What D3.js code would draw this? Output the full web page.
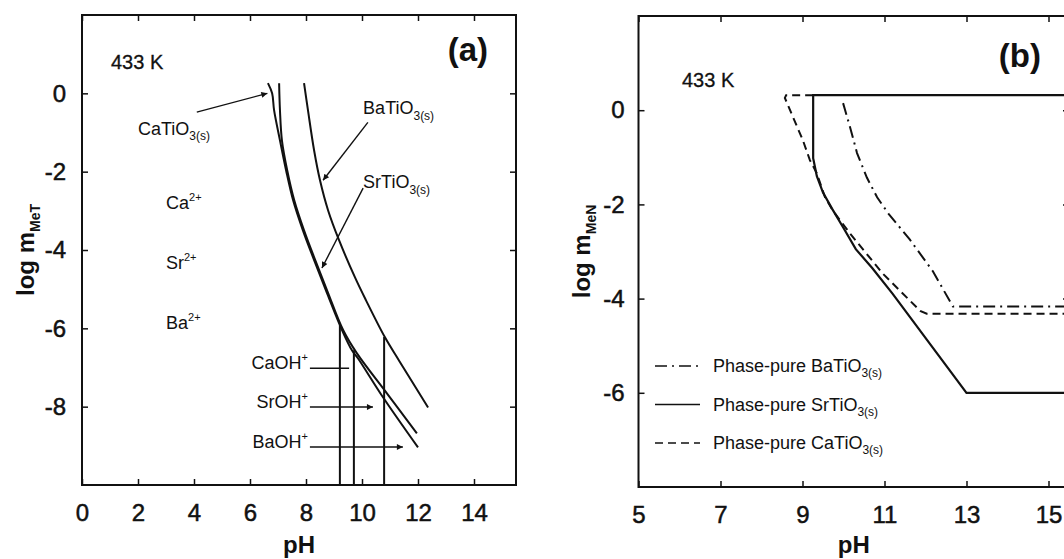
<!DOCTYPE html>
<html>
<head>
<meta charset="utf-8">
<script src="https://cdn.jsdelivr.net/npm/d3@7"></script>
<style>
  html, body { margin: 0; padding: 0; background: #fff; }
  svg { display: block; font-family: "Liberation Sans", Arial, sans-serif; }
  .tick text { fill: #111; stroke: #111; stroke-width: 0.5px; }
</style>
</head>
<body>
<svg id="chart" width="1064" height="559"></svg>
<script>
// ---- panel (a): solubility curves at 433 K ----
const aXTicks = [0, 2, 4, 6, 8, 10, 12, 14];
const aYTicks = [0, -2, -4, -6, -8];
const caCurve = [[6.64,0.26],[6.79,0],[6.86,-0.43],[7.07,-1.2],[7.29,-1.97],[7.54,-2.73],[7.89,-3.5],[8.29,-4.26],[8.75,-5.1],[9.29,-6.05],[9.64,-6.56],[9.86,-6.77],[10.75,-7.76],[12.0,-9.04]];
const srCurve = [[7.04,0.26],[7.07,-0.43],[7.14,-1.2],[7.33,-1.97],[7.58,-2.73],[7.93,-3.5],[8.33,-4.26],[8.79,-5.1],[9.33,-6.05],[9.82,-6.64],[10.89,-7.66],[11.96,-8.68]];
const baCurve = [[7.93,0.26],[8.07,-0.43],[8.29,-1.46],[8.5,-2.22],[8.79,-2.99],[9.18,-3.75],[9.75,-4.7],[10.14,-5.28],[10.82,-6.23],[11.32,-6.82],[12.36,-8.02]];
const hydroxVerticals = [[9.21,-5.92],[9.71,-6.56],[10.79,-6.22]];
const hydroxArrows = [
  { name: 'CaOH', x0: 8.14, x1: 9.54, y: -7.02, head: false },
  { name: 'SrOH', x0: 8.14, x1: 10.39, y: -8.01, head: true },
  { name: 'BaOH', x0: 8.14, x1: 11.46, y: -9.03, head: true }
];
const ionLabels = [
  { el: 'Ca', x: 3.0, y: -2.78 },
  { el: 'Sr', x: 3.0, y: -4.31 },
  { el: 'Ba', x: 3.0, y: -5.84 }
];
const solidLabels = [
  { el: 'CaTiO', x: 2.0, y: -0.9, from: [4.1, -0.48], to: [6.62, 0] },
  { el: 'BaTiO', x: 10.04, y: -0.38, from: [10.21, -0.74], to: [8.61, -2.22] },
  { el: 'SrTiO', x: 10.04, y: -2.27, from: [10.04, -2.42], to: [8.57, -4.46] }
];

// ---- panel (b): phase-pure regions ----
const bXTicks = [5, 7, 9, 11, 13, 15];
const bYTicks = [0, -2, -4, -6];
const srRegion = [[15.5,0.32],[9.26,0.32],[9.26,-1.02],[9.35,-1.4],[9.5,-1.75],[9.72,-2.09],[10.0,-2.5],[10.3,-2.95],[10.7,-3.35],[11.2,-3.9],[13.0,-6.0],[15.5,-6.0]];
const caRegion = [[9.26,0.32],[8.6,0.32],[8.57,0.26],[8.77,-0.15],[9.01,-0.64],[9.18,-1.06],[9.35,-1.34],[9.55,-1.85],[9.74,-2.13],[10.16,-2.62],[10.96,-3.47],[11.87,-4.26],[12.03,-4.32],[15.5,-4.32]];
const baRegion = [[9.99,0.15],[10.16,-0.36],[10.33,-0.91],[10.57,-1.43],[10.82,-1.85],[11.1,-2.2],[11.62,-2.75],[12.18,-3.42],[12.67,-4.17],[15.5,-4.17]];
const legendItems = [
  { el: 'BaTiO', dash: '12,5,2,5' },
  { el: 'SrTiO', dash: null },
  { el: 'CaTiO', dash: '8,5' }
];

const svg = d3.select('#chart');
const defs = svg.append('defs');
defs.append('marker')
  .attr('id', 'head')
  .attr('viewBox', '0 0 10 10')
  .attr('refX', 10).attr('refY', 5)
  .attr('markerWidth', 9).attr('markerHeight', 6)
  .attr('markerUnits', 'userSpaceOnUse')
  .attr('orient', 'auto')
  .append('path').attr('d', 'M0,0L10,5L0,10z').attr('fill', '#111');

const fmt = d => String(d); // plain hyphen minus, as in the figure

function addSub(text, base, sub, subSize) {
  text.append('tspan').text(base);
  text.append('tspan').attr('font-size', subSize).attr('dy', subSize * 0.45).text(sub);
}

function drawFrame(g, x, y, xTicks, yTicks, opts) {
  const [x0, x1] = x.range();
  const [y0, y1] = y.range();
  g.append('g')
    .attr('transform', `translate(0,${y0})`)
    .call(d3.axisBottom(x).tickValues(xTicks).tickFormat(fmt).tickSizeInner(-6).tickSizeOuter(0).tickPadding(19))
    .call(ax => ax.select('.domain').remove())
    .call(ax => ax.selectAll('text').attr('font-size', 24).attr('font-family', 'Liberation Sans, Arial'));
  g.append('g')
    .attr('transform', `translate(0,${y1})`)
    .call(d3.axisTop(x).tickValues(xTicks).tickSizeInner(-6).tickSizeOuter(0).tickFormat(() => ''))
    .call(ax => ax.select('.domain').remove());
  g.append('g')
    .attr('transform', `translate(${x0},0)`)
    .call(d3.axisLeft(y).tickValues(yTicks).tickFormat(fmt).tickSizeInner(-6).tickSizeOuter(0).tickPadding(opts.yPad))
    .call(ax => ax.select('.domain').remove())
    .call(ax => ax.selectAll('text').attr('font-size', 24).attr('font-family', 'Liberation Sans, Arial'));
  g.append('g')
    .attr('transform', `translate(${x1},0)`)
    .call(d3.axisRight(y).tickValues(yTicks).tickSizeInner(-6).tickSizeOuter(0).tickFormat(() => ''))
    .call(ax => ax.select('.domain').remove());
  g.selectAll('.tick line').attr('stroke', '#111').attr('stroke-width', 1.5);
  g.append('rect')
    .attr('x', x0).attr('y', y1)
    .attr('width', x1 - x0).attr('height', y0 - y1)
    .attr('fill', 'none').attr('stroke', '#111').attr('stroke-width', 2);

  g.append('text')
    .attr('x', (x0 + x1) / 2).attr('y', 553)
    .attr('text-anchor', 'middle')
    .attr('font-size', 24).attr('font-weight', 'bold').attr('fill', '#111')
    .text('pH');

  const yl = g.append('text')
    .attr('transform', `translate(${opts.yLabelX},${(y0 + y1) / 2}) rotate(-90)`)
    .attr('text-anchor', 'middle')
    .attr('font-size', 24).attr('font-weight', 'bold').attr('fill', '#111');
  yl.append('tspan').text('log m');
  yl.append('tspan').attr('font-size', 14).attr('dy', 6).text(opts.sub);

  g.append('text')
    .attr('x', opts.tempX).attr('y', opts.tempY)
    .attr('font-size', 20).attr('fill', '#111')
    .attr('stroke', '#111').attr('stroke-width', 0.3)
    .text('433 K');
  g.append('text')
    .attr('x', x1 - 28).attr('y', opts.panelY)
    .attr('text-anchor', 'end')
    .attr('font-size', 33).attr('font-weight', 'bold').attr('fill', '#111')
    .text(opts.panel);
}

// ---- panel (a) ----
const xa = d3.scaleLinear().domain([0, 15.5]).range([82, 516]);
const ya = d3.scaleLinear().domain([-10, 2]).range([485, 15]);
const ga = svg.append('g');
drawFrame(ga, xa, ya, aXTicks, aYTicks, { yPad: 16, yLabelX: 34, sub: 'MeT', tempX: 111, tempY: 69, panel: '(a)', panelY: 61 });

const lineA = d3.line().x(d => xa(d[0])).y(d => ya(d[1])).curve(d3.curveCatmullRom.alpha(0.5));
[caCurve, srCurve, baCurve].forEach(c => {
  ga.append('path').attr('d', lineA(c))
    .attr('fill', 'none').attr('stroke', '#111').attr('stroke-width', 2);
});

hydroxVerticals.forEach(v => {
  ga.append('line')
    .attr('x1', xa(v[0])).attr('x2', xa(v[0]))
    .attr('y1', ya(v[1])).attr('y2', ya(-10))
    .attr('stroke', '#111').attr('stroke-width', 2);
});

hydroxArrows.forEach(a => {
  ga.append('line')
    .attr('x1', xa(a.x0)).attr('x2', xa(a.x1))
    .attr('y1', ya(a.y)).attr('y2', ya(a.y))
    .attr('stroke', '#111').attr('stroke-width', 1.4)
    .attr('marker-end', a.head ? 'url(#head)' : null);
  const t = ga.append('text')
    .attr('x', xa(a.x0) - 2).attr('y', ya(a.y) + 1)
    .attr('text-anchor', 'end')
    .attr('font-size', 18).attr('fill', '#111');
  t.append('tspan').text(a.name);
  t.append('tspan').attr('font-size', 11).attr('dy', -8).text('+');
});

ionLabels.forEach(l => {
  const t = ga.append('text')
    .attr('x', xa(l.x)).attr('y', ya(l.y) + 7)
    .attr('font-size', 18).attr('fill', '#111');
  t.append('tspan').text(l.el);
  t.append('tspan').attr('font-size', 11).attr('dy', -8).text('2+');
});

solidLabels.forEach(l => {
  const t = ga.append('text')
    .attr('x', xa(l.x)).attr('y', ya(l.y) + 6)
    .attr('font-size', 18).attr('fill', '#111');
  addSub(t, l.el, '3(s)', 12);
  ga.append('line')
    .attr('x1', xa(l.from[0])).attr('y1', ya(l.from[1]))
    .attr('x2', xa(l.to[0])).attr('y2', ya(l.to[1]))
    .attr('stroke', '#111').attr('stroke-width', 1.4)
    .attr('marker-end', 'url(#head)');
});

// ---- panel (b) ----
const xb = d3.scaleLinear().domain([5, 15.5]).range([638.5, 1069]);
const yb = d3.scaleLinear().domain([-8, 2]).range([487, 16]);
const gb = svg.append('g');
drawFrame(gb, xb, yb, bXTicks, bYTicks, { yPad: 14, yLabelX: 590, sub: 'MeN', tempX: 682, tempY: 87, panel: '(b)', panelY: 67 });

const lineB = d3.line().x(d => xb(d[0])).y(d => yb(d[1]));
gb.append('path').attr('d', lineB(caRegion))
  .attr('fill', 'none').attr('stroke', '#111').attr('stroke-width', 2).attr('stroke-dasharray', '8,5');
gb.append('path').attr('d', lineB(baRegion))
  .attr('fill', 'none').attr('stroke', '#111').attr('stroke-width', 2).attr('stroke-dasharray', '12,5,2,5');
gb.append('path').attr('d', lineB(srRegion))
  .attr('fill', 'none').attr('stroke', '#111').attr('stroke-width', 2.2);

legendItems.forEach((it, i) => {
  const yy = 366 + i * 38.5;
  gb.append('line')
    .attr('x1', 655).attr('x2', 700).attr('y1', yy).attr('y2', yy)
    .attr('stroke', '#111').attr('stroke-width', 1.6)
    .attr('stroke-dasharray', it.dash);
  const t = gb.append('text')
    .attr('x', 713).attr('y', yy + 6)
    .attr('font-size', 18).attr('fill', '#111');
  addSub(t, 'Phase-pure ' + it.el, '3(s)', 12);
});
</script>
</body>
</html>
